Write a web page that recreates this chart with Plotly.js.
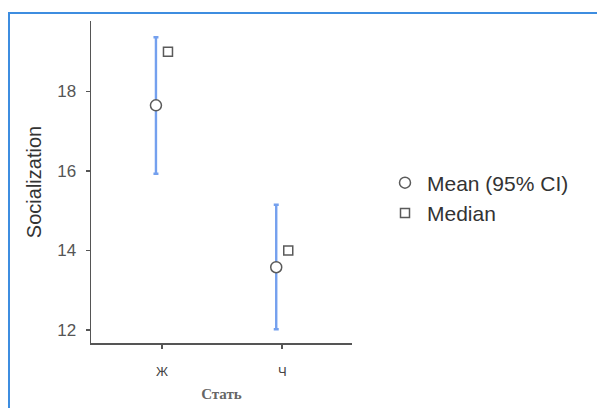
<!DOCTYPE html>
<html>
<head>
<meta charset="utf-8">
<script src="https://cdn.plot.ly/plotly-3.0.1.min.js"></script>
<style>
html,body{margin:0;padding:0;background:#fff;}
#chart{width:597px;height:408px;}
</style>
</head>
<body>
<div id="chart"></div>
<script>
var categories = ['Ж', 'Ч'];
var meanValues = [17.65, 13.58];
var ciLower = [15.93, 12.02];
var ciUpper = [19.36, 15.15];
var medianValues = [19.0, 14.0];
var yTickValues = [12, 14, 16, 18];

var idx = categories.map(function (c, i) { return i; });
var offset = 0.05;

var meanTrace = {
  type: 'scatter',
  mode: 'markers',
  name: 'Mean (95% CI)',
  x: idx.map(function (i) { return i - offset; }),
  y: meanValues,
  error_y: {
    type: 'data',
    symmetric: false,
    array: meanValues.map(function (m, i) { return ciUpper[i] - m; }),
    arrayminus: meanValues.map(function (m, i) { return m - ciLower[i]; }),
    color: '#74a0ee',
    thickness: 2.4,
    width: 2.5
  },
  marker: {
    symbol: 'circle',
    size: 11,
    color: '#ffffff',
    line: { color: '#5a5a5a', width: 1.5 }
  },
  hoverinfo: 'skip'
};

var medianTrace = {
  type: 'scatter',
  mode: 'markers',
  name: 'Median',
  x: idx.map(function (i) { return i + offset; }),
  y: medianValues,
  marker: {
    symbol: 'square',
    size: 9,
    color: '#ffffff',
    line: { color: '#5a5a5a', width: 1.5 }
  },
  hoverinfo: 'skip'
};

var L = 91, R = 352, T = 21, B = 343, W = 597, H = 408;
function px(x) { return (x - L) / (R - L); }
function py(y) { return (B - y) / (B - T); }

var layout = {
  width: W,
  height: H,
  margin: { l: L, r: W - R, t: T, b: H - B, pad: 0 },
  paper_bgcolor: '#ffffff',
  plot_bgcolor: '#ffffff',
  font: { family: 'Liberation Sans, Arial, sans-serif', color: '#444' },
  showlegend: true,
  legend: {
    x: px(383), y: py(198), xanchor: 'left', yanchor: 'middle',
    font: { size: 21, color: '#333' },
    bgcolor: 'rgba(0,0,0,0)',
    tracegroupgap: 0,
    itemwidth: 34
  },
  xaxis: {
    range: [-0.59, 1.58],
    tickmode: 'array',
    tickvals: idx,
    ticktext: categories,
    showline: true,
    linecolor: '#555',
    linewidth: 1.5,
    ticks: 'outside',
    ticklen: 4,
    tickwidth: 1.5,
    tickcolor: '#555',
    ticklabelstandoff: 12,
    tickfont: { size: 13, color: '#444' },
    showgrid: false,
    zeroline: false,
    fixedrange: true,
    title: {
      text: '<b>Стать</b>',
      font: { family: 'Liberation Serif, Times New Roman, serif', size: 15, color: '#666' },
      standoff: 10
    }
  },
  yaxis: {
    range: [11.675, 19.77],
    tickmode: 'array',
    tickvals: yTickValues,
    showline: true,
    linecolor: '#555',
    linewidth: 1.5,
    ticks: 'outside',
    ticklen: 4,
    tickwidth: 1.5,
    tickcolor: '#555',
    ticklabelstandoff: 6,
    tickfont: { size: 17, color: '#555' },
    showgrid: false,
    zeroline: false,
    fixedrange: true,
    title: {
      text: 'Socialization',
      font: { size: 20, color: '#333' },
      standoff: 10
    }
  },
  shapes: [{
    type: 'rect', xref: 'paper', yref: 'paper',
    x0: px(9), x1: px(610), y0: py(420), y1: py(13),
    line: { color: '#3d8de0', width: 2 },
    fillcolor: 'rgba(0,0,0,0)',
    layer: 'below'
  }]
};

Plotly.newPlot('chart', [meanTrace, medianTrace], layout, { displayModeBar: false, staticPlot: true });
</script>
</body>
</html>
